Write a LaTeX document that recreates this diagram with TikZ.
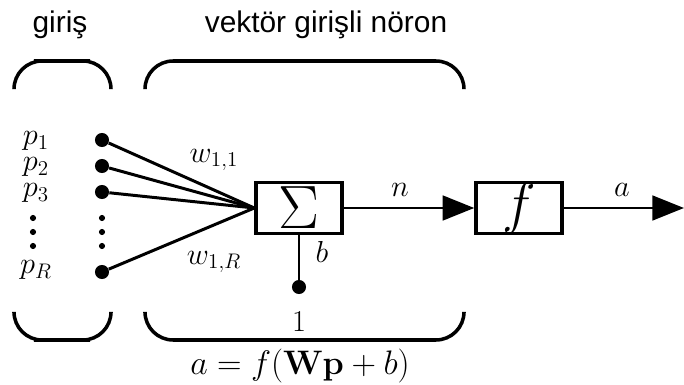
\documentclass[tikz,border=0pt]{standalone}
\usepackage[no-math]{fontspec}
\setmainfont{Liberation Sans}
\usepackage{amsmath}
\usetikzlibrary{positioning,arrows.meta}

\begin{document}
\begin{tikzpicture}[
  x=0.02cm, y=-0.02cm,
  >={Triangle[length=18pt,width=14pt]},
  inp/.style={circle,fill=black,inner sep=0pt,minimum size=8pt},
  vdot/.style={circle,fill=black,inner sep=0pt,minimum size=3.5pt},
  blk/.style={draw,line width=1.9pt,minimum width=49pt,minimum height=29pt,inner sep=0pt},
  sym/.style={inner sep=0pt},
  wire/.style={line width=1.7pt},
  brace/.style={line width=2pt,rounded corners=16pt},
  title/.style={font=\fontsize{17}{20}\selectfont},
  lbl/.style={font=\fontsize{17}{20}\selectfont,inner sep=0pt},
]
\useasboundingbox (0,0) rectangle (684,385);
% ---------- titles and brackets ----------
\node[title] (tin) at (60,25) {giriş};
\node[title] (tneu) at (326,25) {vektör girişli nöron};
\draw[brace] (14,89) |- (62,61) -| (111,89);
\draw[brace] (145,89) |- (305,61) -| (464,89);
\draw[brace] (14,313) |- (62,340) -| (111,313);
\draw[brace] (145,313) |- (305,340) -| (464,313);
% ---------- inputs ----------
\node[inp] (p1) at (102,140) {};
\node[inp] (p2) at (102,166) {};
\node[inp] (p3) at (102,192) {};
\node[inp] (pR) at (102,272) {};
\node[lbl] (lp1) at (36,141) {$p_1$};
\node[lbl] (lp2) at (36,167) {$p_2$};
\node[lbl] (lp3) at (36,193) {$p_3$};
\node[lbl] (lpR) at (36,270) {$p_R$};
\foreach \y in {218,232,246}{
  \node[vdot] at (33,\y) {};
  \node[vdot] at (102,\y) {};
}
% ---------- neuron ----------
\node[blk] (sum) at (299,208) {};
\node[sym] (sig) at (sum) {\scalebox{1.4}{\Huge$\Sigma$}};
\node[blk] (fbox) at (519,208) {};
\node[sym] (fsym) at (fbox) {\scalebox{1.3}{\Huge$f$}};
\coordinate (out) at (684,208);
\node[inp] (one) at (299,287) {};
\node[lbl] (l1) at (299,322) {$1$};
\node[lbl] (lb) at (322,252) {$b$};
\node[lbl] (w11) at (214,160) {$w_{1,1}$};
\node[lbl] (w1R) at (214,262) {$w_{1,R}$};
\node[lbl] (ln) at (400,190) {$n$};
\node[lbl] (la) at (622,190) {$a$};
\node[lbl] (eq) at (300,366) {\scalebox{1.12}{$a=f(\mathbf{Wp}+b)$}};
% ---------- edges ----------
\foreach \n in {p1,p2,p3,pR}{\draw[wire] (\n) -- (sum.west);}
\draw[wire] (sum) -- (one);
\draw[wire,->] (sum) -- (fbox);
\draw[wire,->] (fbox) -- (out);
\end{tikzpicture}
\end{document}
